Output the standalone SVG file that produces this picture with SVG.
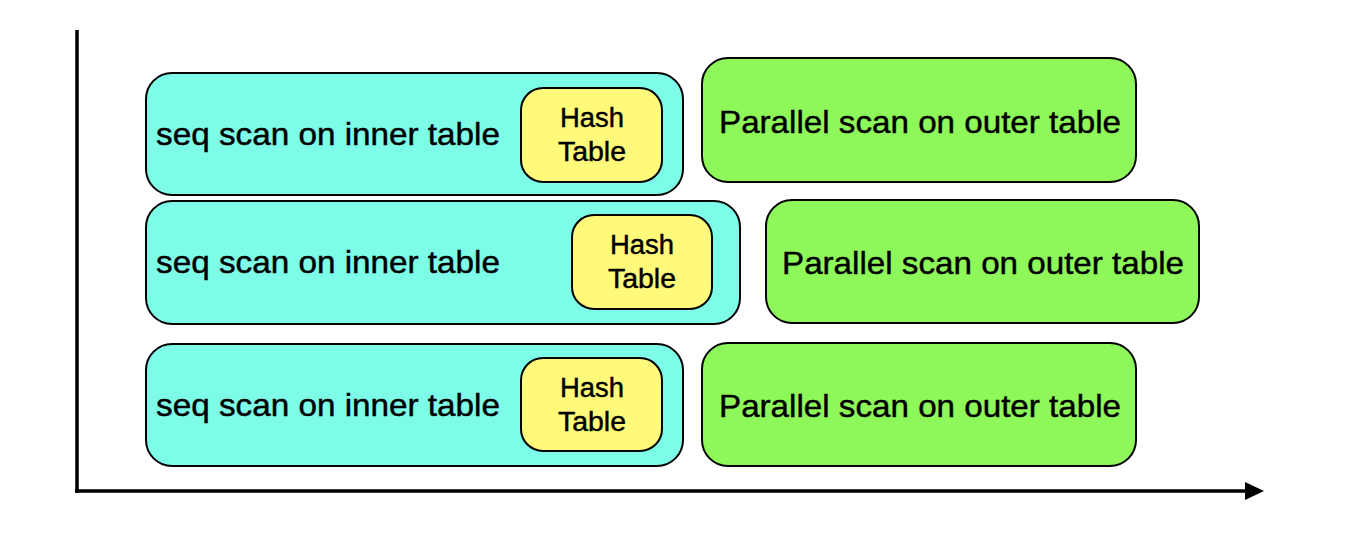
<svg xmlns="http://www.w3.org/2000/svg" width="1360" height="538" viewBox="0 0 1360 538">
<style>
.cyan{fill:#7dfde8;stroke:#000;stroke-width:2}
.green{fill:#8ef85b;stroke:#000;stroke-width:2}
.yellow{fill:#fffa7a;stroke:#000;stroke-width:2}
text{font-family:"Liberation Sans",Arial,sans-serif;fill:#000;stroke:#000;stroke-width:0.45}
.main{font-size:32px}
.hash{font-size:27px;text-anchor:middle}
.axis{stroke:#000;stroke-width:3.5;fill:none}
</style>
<rect width="1360" height="538" fill="#fff"/>
<g id="connectors">
<line class="axis" x1="77" y1="30" x2="77" y2="493"/>
<line class="axis" x1="75" y1="491" x2="1248" y2="491"/>
<polygon points="1245,482 1264,491 1245,500" fill="#000"/>
</g>
<g id="inner1">
<rect class="cyan" x="146" y="73" width="537" height="122" rx="26"/>
<text class="main" x="156" y="145" textLength="344" lengthAdjust="spacingAndGlyphs">seq scan on inner table</text>
</g>
<g id="hash1">
<rect class="yellow" x="521" y="88" width="141" height="94" rx="22"/>
<text class="hash" x="592" y="127" textLength="64" lengthAdjust="spacingAndGlyphs">Hash</text>
<text class="hash" x="592" y="161" textLength="68" lengthAdjust="spacingAndGlyphs">Table</text>
</g>
<g id="outer1">
<rect class="green" x="702" y="58" width="434" height="124" rx="26"/>
<text class="main" x="719" y="133" textLength="402" lengthAdjust="spacingAndGlyphs">Parallel scan on outer table</text>
</g>
<g id="inner2">
<rect class="cyan" x="146" y="201" width="594" height="123" rx="26"/>
<text class="main" x="156" y="273" textLength="344" lengthAdjust="spacingAndGlyphs">seq scan on inner table</text>
</g>
<g id="hash2">
<rect class="yellow" x="572" y="215" width="140" height="94" rx="22"/>
<text class="hash" x="642" y="254" textLength="64" lengthAdjust="spacingAndGlyphs">Hash</text>
<text class="hash" x="642" y="288" textLength="68" lengthAdjust="spacingAndGlyphs">Table</text>
</g>
<g id="outer2">
<rect class="green" x="766" y="200" width="433" height="123" rx="26"/>
<text class="main" x="782" y="274" textLength="402" lengthAdjust="spacingAndGlyphs">Parallel scan on outer table</text>
</g>
<g id="inner3">
<rect class="cyan" x="146" y="344" width="537" height="122" rx="26"/>
<text class="main" x="156" y="416" textLength="344" lengthAdjust="spacingAndGlyphs">seq scan on inner table</text>
</g>
<g id="hash3">
<rect class="yellow" x="521" y="358" width="141" height="93" rx="22"/>
<text class="hash" x="592" y="397" textLength="64" lengthAdjust="spacingAndGlyphs">Hash</text>
<text class="hash" x="592" y="431" textLength="68" lengthAdjust="spacingAndGlyphs">Table</text>
</g>
<g id="outer3">
<rect class="green" x="702" y="343" width="434" height="123" rx="26"/>
<text class="main" x="719" y="417" textLength="402" lengthAdjust="spacingAndGlyphs">Parallel scan on outer table</text>
</g>
</svg>
